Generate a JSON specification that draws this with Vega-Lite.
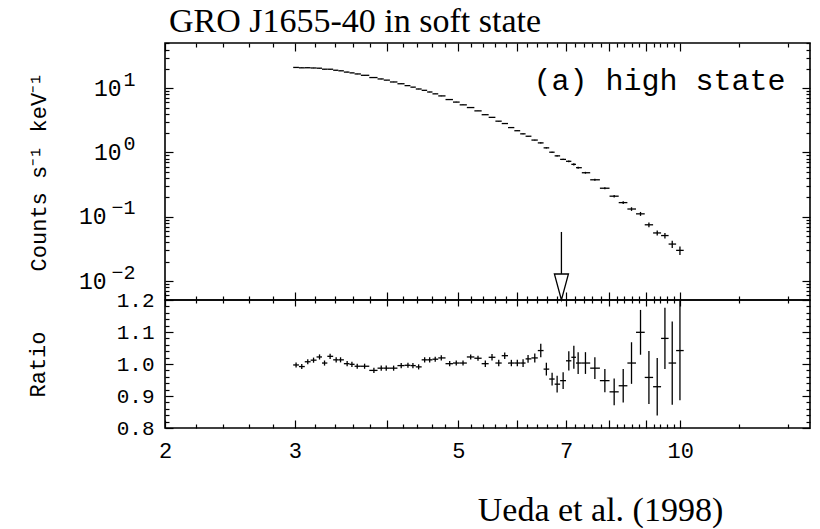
{
  "$schema": "https://vega.github.io/schema/vega-lite/v6.json",
  "padding": {"left": 25, "top": 4, "right": 9, "bottom": 0},
  "title": {"text": "GRO J1655-40 in soft state", "font": "Liberation Serif", "fontSize": 34, "fontWeight": "normal", "color": "black", "anchor": "start", "frame": "group", "offset": 3, "dx": 4},
  "spacing": 0,
  "bounds": "flush",
  "datasets": {
    "pts": [
      {"E":3.012,"lo":2.985,"hi":3.039,"C":21.04,"cerr":0.168,"R":0.997,"rerr":0.008},
      {"E":3.066,"lo":3.039,"hi":3.095,"C":20.75,"cerr":0.166,"R":0.992,"rerr":0.008},
      {"E":3.124,"lo":3.095,"hi":3.152,"C":20.82,"cerr":0.167,"R":1.007,"rerr":0.008},
      {"E":3.181,"lo":3.152,"hi":3.211,"C":20.64,"cerr":0.165,"R":1.012,"rerr":0.008},
      {"E":3.241,"lo":3.211,"hi":3.266,"C":20.48,"cerr":0.164,"R":1.022,"rerr":0.008},
      {"E":3.292,"lo":3.266,"hi":3.321,"C":19.76,"cerr":0.158,"R":1.003,"rerr":0.008},
      {"E":3.350,"lo":3.321,"hi":3.382,"C":19.74,"cerr":0.158,"R":1.024,"rerr":0.008},
      {"E":3.414,"lo":3.382,"hi":3.437,"C":19.04,"cerr":0.152,"R":1.013,"rerr":0.008},
      {"E":3.461,"lo":3.437,"hi":3.497,"C":18.65,"cerr":0.149,"R":1.013,"rerr":0.008},
      {"E":3.533,"lo":3.497,"hi":3.559,"C":17.81,"cerr":0.142,"R":1.001,"rerr":0.008},
      {"E":3.586,"lo":3.559,"hi":3.616,"C":17.31,"cerr":0.138,"R":0.999,"rerr":0.008},
      {"E":3.646,"lo":3.616,"hi":3.688,"C":16.67,"cerr":0.133,"R":0.993,"rerr":0.008},
      {"E":3.731,"lo":3.688,"hi":3.786,"C":15.88,"cerr":0.127,"R":0.993,"rerr":0.008},
      {"E":3.841,"lo":3.786,"hi":3.885,"C":14.65,"cerr":0.117,"R":0.980,"rerr":0.008},
      {"E":3.930,"lo":3.885,"hi":3.961,"C":13.93,"cerr":0.111,"R":0.987,"rerr":0.008},
      {"E":3.992,"lo":3.961,"hi":4.038,"C":13.36,"cerr":0.107,"R":0.987,"rerr":0.008},
      {"E":4.085,"lo":4.038,"hi":4.134,"C":12.50,"cerr":0.100,"R":0.987,"rerr":0.008},
      {"E":4.183,"lo":4.134,"hi":4.227,"C":11.73,"cerr":0.094,"R":0.995,"rerr":0.008},
      {"E":4.272,"lo":4.227,"hi":4.305,"C":10.97,"cerr":0.088,"R":0.996,"rerr":0.008},
      {"E":4.339,"lo":4.305,"hi":4.378,"C":10.39,"cerr":0.083,"R":0.995,"rerr":0.008},
      {"E":4.417,"lo":4.378,"hi":4.459,"C":9.72,"cerr":0.078,"R":0.991,"rerr":0.008},
      {"E":4.501,"lo":4.459,"hi":4.536,"C":9.27,"cerr":0.074,"R":1.013,"rerr":0.008},
      {"E":4.572,"lo":4.536,"hi":4.612,"C":8.73,"cerr":0.070,"R":1.013,"rerr":0.008},
      {"E":4.652,"lo":4.612,"hi":4.696,"C":8.17,"cerr":0.065,"R":1.015,"rerr":0.008},
      {"E":4.741,"lo":4.696,"hi":4.804,"C":7.59,"cerr":0.061,"R":1.019,"rerr":0.008},
      {"E":4.867,"lo":4.804,"hi":4.917,"C":6.66,"cerr":0.053,"R":1.001,"rerr":0.008},
      {"E":4.968,"lo":4.917,"hi":5.021,"C":6.08,"cerr":0.049,"R":1.003,"rerr":0.008},
      {"E":5.074,"lo":5.021,"hi":5.135,"C":5.51,"cerr":0.044,"R":1.003,"rerr":0.008},
      {"E":5.197,"lo":5.135,"hi":5.257,"C":5.00,"cerr":0.040,"R":1.022,"rerr":0.008},
      {"E":5.317,"lo":5.257,"hi":5.378,"C":4.44,"cerr":0.036,"R":1.018,"rerr":0.008},
      {"E":5.440,"lo":5.378,"hi":5.497,"C":3.87,"cerr":0.039,"R":1.001,"rerr":0.010},
      {"E":5.555,"lo":5.497,"hi":5.614,"C":3.52,"cerr":0.035,"R":1.021,"rerr":0.010},
      {"E":5.673,"lo":5.614,"hi":5.726,"C":3.07,"cerr":0.031,"R":1.003,"rerr":0.010},
      {"E":5.780,"lo":5.726,"hi":5.840,"C":2.82,"cerr":0.028,"R":1.026,"rerr":0.010},
      {"E":5.901,"lo":5.840,"hi":5.956,"C":2.44,"cerr":0.024,"R":1.003,"rerr":0.010},
      {"E":6.012,"lo":5.956,"hi":6.066,"C":2.18,"cerr":0.022,"R":1.003,"rerr":0.010},
      {"E":6.121,"lo":6.066,"hi":6.169,"C":1.95,"cerr":0.023,"R":1.003,"rerr":0.012},
      {"E":6.217,"lo":6.169,"hi":6.283,"C":1.79,"cerr":0.021,"R":1.016,"rerr":0.012},
      {"E":6.349,"lo":6.283,"hi":6.409,"C":1.56,"cerr":0.022,"R":1.019,"rerr":0.014},
      {"E":6.469,"lo":6.409,"hi":6.526,"C":1.41,"cerr":0.030,"R":1.042,"rerr":0.021},
      {"E":6.583,"lo":6.526,"hi":6.642,"C":1.18,"cerr":0.024,"R":0.984,"rerr":0.020},
      {"E":6.702,"lo":6.642,"hi":6.755,"C":1.01,"cerr":0.020,"R":0.953,"rerr":0.020},
      {"E":6.808,"lo":6.755,"hi":6.872,"C":0.886,"cerr":0.023,"R":0.937,"rerr":0.026},
      {"E":6.937,"lo":6.872,"hi":6.999,"C":0.781,"cerr":0.020,"R":0.948,"rerr":0.026},
      {"E":7.061,"lo":6.999,"hi":7.117,"C":0.729,"cerr":0.022,"R":1.010,"rerr":0.030},
      {"E":7.173,"lo":7.117,"hi":7.221,"C":0.654,"cerr":0.024,"R":1.021,"rerr":0.036},
      {"E":7.270,"lo":7.221,"hi":7.354,"C":0.580,"cerr":0.020,"R":1.003,"rerr":0.034},
      {"E":7.438,"lo":7.354,"hi":7.549,"C":0.484,"cerr":0.016,"R":1.003,"rerr":0.034},
      {"E":7.660,"lo":7.549,"hi":7.781,"C":0.376,"cerr":0.013,"R":0.987,"rerr":0.034},
      {"E":7.903,"lo":7.781,"hi":8.019,"C":0.278,"cerr":0.010,"R":0.948,"rerr":0.036},
      {"E":8.136,"lo":8.019,"hi":8.252,"C":0.209,"cerr":0.0088,"R":0.913,"rerr":0.042},
      {"E":8.369,"lo":8.252,"hi":8.479,"C":0.166,"cerr":0.0086,"R":0.932,"rerr":0.052},
      {"E":8.589,"lo":8.479,"hi":8.711,"C":0.132,"cerr":0.0086,"R":1.003,"rerr":0.065},
      {"E":8.834,"lo":8.711,"hi":8.951,"C":0.111,"cerr":0.0078,"R":1.099,"rerr":0.070},
      {"E":9.069,"lo":8.951,"hi":9.188,"C":0.075,"cerr":0.0062,"R":0.958,"rerr":0.083},
      {"E":9.307,"lo":9.188,"hi":9.420,"C":0.056,"cerr":0.0050,"R":0.929,"rerr":0.090},
      {"E":9.534,"lo":9.420,"hi":9.644,"C":0.051,"cerr":0.0049,"R":1.080,"rerr":0.096},
      {"E":9.754,"lo":9.644,"hi":9.873,"C":0.0376,"cerr":0.0049,"R":1.003,"rerr":0.130},
      {"E":9.992,"lo":9.873,"hi":10.11,"C":0.030,"cerr":0.0045,"R":1.042,"rerr":0.155}
    ],
    "arrow": [{"E": 6.9, "top": 0.058, "bot": 0.0129, "tri": 0.00807}],
    "note": [{"E": 13.9, "C": 9.3, "label": "(a) high state"}]
  },
  "vconcat": [
    {
      "width": 645,
      "height": 257,
      "layer": [
        {
          "data": {"name": "pts"},
          "mark": {"type": "rule", "color": "black", "strokeWidth": 1.3},
          "encoding": {
            "x": {"field": "lo", "type": "quantitative", "scale": {"type": "log", "domain": [2, 15], "nice": false},
                  "axis": {"orient": "bottom", "values": [2,3,4,5,6,7,8,9,10], "labels": false, "tickSize": -8, "title": null}},
            "x2": {"field": "hi"},
            "y": {"field": "C", "type": "quantitative", "scale": {"type": "log", "domain": [0.00507, 50.5], "nice": false},
                  "axis": {"orient": "left", "values": [1, 10], "ticks": false, "labelPadding": 44, "labelFontSize": 23, "labelExpr": "'10'", "title": null}}
          }
        },
        {
          "data": {"name": "pts"},
          "mark": {"type": "errorbar", "color": "black", "thickness": 1.3},
          "encoding": {
            "x": {"field": "E", "type": "quantitative", "scale": {"type": "log", "domain": [2, 15], "nice": false},
                  "axis": {"orient": "top", "values": [2,3,4,5,6,7,8,9,10], "labels": false, "tickSize": -8, "title": null}},
            "y": {"field": "C", "type": "quantitative", "scale": {"type": "log", "domain": [0.00507, 50.5], "nice": false},
                  "axis": {"orient": "left", "values": [0.01, 0.1, 1, 10], "labels": false, "tickSize": -8, "title": null}},
            "yError": {"field": "cerr"}
          }
        },
        {
          "data": {"name": "arrow"},
          "mark": {"type": "rule", "color": "black", "strokeWidth": 1.3},
          "encoding": {
            "x": {"field": "E", "type": "quantitative", "scale": {"type": "log", "domain": [2, 15], "nice": false},
                  "axis": {"orient": "bottom", "values": [2.2,2.4,2.6,2.8,3.2,3.4,3.6,3.8,4.2,4.4,4.6,4.8,5.2,5.4,5.6,5.8,6.2,6.4,6.6,6.8,7.2,7.4,7.6,7.8,8.2,8.4,8.6,8.8,9.2,9.4,9.6,9.8,12,14], "labels": false, "tickSize": -4, "title": null}},
            "y": {"field": "top", "type": "quantitative", "scale": {"type": "log", "domain": [0.00507, 50.5], "nice": false},
                  "axis": {"orient": "left", "values": [0.006,0.007,0.008,0.009,0.02,0.03,0.04,0.05,0.06,0.07,0.08,0.09,0.2,0.3,0.4,0.5,0.6,0.7,0.8,0.9,2,3,4,5,6,7,8,9,20,30,40,50], "labels": false, "tickSize": -4, "title": null}},
            "y2": {"field": "bot"}
          }
        },
        {
          "data": {"name": "arrow"},
          "mark": {"type": "point", "shape": "M-0.54,-1L0.54,-1L0,1Z", "size": 676, "filled": true, "fill": "white", "stroke": "black", "strokeWidth": 1.3, "opacity": 1},
          "encoding": {
            "x": {"field": "E", "type": "quantitative", "scale": {"type": "log", "domain": [2, 15], "nice": false},
                  "axis": {"orient": "top", "values": [2.2,2.4,2.6,2.8,3.2,3.4,3.6,3.8,4.2,4.4,4.6,4.8,5.2,5.4,5.6,5.8,6.2,6.4,6.6,6.8,7.2,7.4,7.6,7.8,8.2,8.4,8.6,8.8,9.2,9.4,9.6,9.8,12,14], "labels": false, "tickSize": -4, "title": null}},
            "y": {"field": "tri", "type": "quantitative", "scale": {"type": "log", "domain": [0.00507, 50.5], "nice": false},
                  "axis": {"orient": "right", "values": [0.01, 0.1, 1, 10], "labels": false, "tickSize": -8, "title": null}}
          }
        },
        {
          "data": {"name": "note"},
          "mark": {"type": "text", "font": "Liberation Mono", "fontSize": 30, "align": "right", "baseline": "alphabetic", "color": "black"},
          "encoding": {
            "x": {"field": "E", "type": "quantitative", "scale": {"type": "log", "domain": [2, 15], "nice": false}, "axis": null},
            "y": {"field": "C", "type": "quantitative", "scale": {"type": "log", "domain": [0.00507, 50.5], "nice": false},
                  "axis": {"orient": "right", "values": [0.006,0.007,0.008,0.009,0.02,0.03,0.04,0.05,0.06,0.07,0.08,0.09,0.2,0.3,0.4,0.5,0.6,0.7,0.8,0.9,2,3,4,5,6,7,8,9,20,30,40,50], "labels": false, "tickSize": -4, "title": null}},
            "text": {"field": "label"}
          }
        },
        {
          "data": {"name": "pts"},
          "mark": {"type": "point", "opacity": 0},
          "encoding": {
            "x": {"field": "E", "type": "quantitative", "scale": {"type": "log", "domain": [2, 15], "nice": false}, "axis": null},
            "y": {"field": "C", "type": "quantitative", "scale": {"type": "log", "domain": [0.00507, 50.5], "nice": false},
                  "axis": {"orient": "left", "values": [0.01, 0.1], "ticks": false, "labelPadding": 59, "labelFontSize": 23, "labelExpr": "'10'",
                           "title": "Counts s⁻¹ keV⁻¹", "titlePadding": 28}}
          }
        },
        {
          "data": {"name": "pts"},
          "mark": {"type": "point", "opacity": 0},
          "encoding": {
            "x": {"field": "E", "type": "quantitative", "scale": {"type": "log", "domain": [2, 15], "nice": false}, "axis": null},
            "y": {"field": "C", "type": "quantitative", "scale": {"type": "log", "domain": [0.00507, 50.5], "nice": false},
                  "axis": {"orient": "left", "values": [1, 10], "ticks": false, "labelPadding": 30, "labelFontSize": 20, "labelOffset": -9,
                           "labelExpr": "datum.value > 5 ? '1' : '0'", "title": null}}
          }
        },
        {
          "data": {"name": "pts"},
          "mark": {"type": "point", "opacity": 0},
          "encoding": {
            "x": {"field": "E", "type": "quantitative", "scale": {"type": "log", "domain": [2, 15], "nice": false}, "axis": null},
            "y": {"field": "C", "type": "quantitative", "scale": {"type": "log", "domain": [0.00507, 50.5], "nice": false},
                  "axis": {"orient": "left", "values": [0.01, 0.1], "ticks": false, "labelPadding": 30, "labelFontSize": 20, "labelOffset": -9,
                           "labelExpr": "datum.value > 0.05 ? '−1' : '−2'", "title": null}}
          }
        }
      ],
      "resolve": {"axis": {"x": "independent", "y": "independent"}}
    },
    {
      "width": 645,
      "height": 128,
      "layer": [
        {
          "mark": {"type": "rule", "color": "black", "strokeWidth": 1.6, "strokeDash": [1.6, 22.4]},
          "encoding": {
            "x": {"datum": 2.04, "type": "quantitative", "scale": {"type": "log", "domain": [2, 15], "nice": false},
                  "axis": {"orient": "top", "values": [2,3,4,5,6,7,8,9,10], "labels": false, "tickSize": -6, "title": null}},
            "x2": {"datum": 15},
            "y": {"datum": 1, "type": "quantitative", "scale": {"domain": [0.8, 1.2], "nice": false, "zero": false},
                  "axis": {"orient": "right", "values": [0.8, 0.9, 1.0, 1.1, 1.2], "labels": false, "tickSize": -8, "title": null}}
          }
        },
        {
          "data": {"name": "pts"},
          "mark": {"type": "rule", "color": "black", "strokeWidth": 1.3},
          "encoding": {
            "x": {"field": "lo", "type": "quantitative", "scale": {"type": "log", "domain": [2, 15], "nice": false},
                  "axis": {"orient": "bottom", "values": [2, 3, 5, 7, 10], "ticks": false, "format": "d", "labelPadding": 12,
                           "title": "Ueda et al. (1998)", "titleFont": "Liberation Serif", "titleFontSize": 34, "titleX": 435, "titleY": 92, "titleBaseline": "alphabetic", "titleAlign": "center"}},
            "x2": {"field": "hi"},
            "y": {"field": "R", "type": "quantitative", "scale": {"domain": [0.8, 1.2], "nice": false, "zero": false},
                  "axis": {"orient": "left", "values": [0.8, 0.9, 1.0, 1.1, 1.2], "ticks": false, "format": ".1f", "labelPadding": 11, "labelFontSize": 21,
                           "title": "Ratio", "titlePadding": 67}}
          }
        },
        {
          "data": {"name": "pts"},
          "mark": {"type": "errorbar", "color": "black", "thickness": 1.3},
          "encoding": {
            "x": {"field": "E", "type": "quantitative", "scale": {"type": "log", "domain": [2, 15], "nice": false},
                  "axis": {"orient": "bottom", "values": [2,3,4,5,6,7,8,9,10], "labels": false, "tickSize": -8, "title": null}},
            "y": {"field": "R", "type": "quantitative", "scale": {"domain": [0.8, 1.2], "nice": false, "zero": false},
                  "axis": {"orient": "left", "values": [0.8, 0.9, 1.0, 1.1, 1.2], "labels": false, "tickSize": -8, "title": null}},
            "yError": {"field": "rerr"}
          }
        },
        {
          "data": {"name": "pts"},
          "mark": {"type": "point", "opacity": 0},
          "encoding": {
            "x": {"field": "E", "type": "quantitative", "scale": {"type": "log", "domain": [2, 15], "nice": false},
                  "axis": {"orient": "bottom", "values": [2.2,2.4,2.6,2.8,3.2,3.4,3.6,3.8,4.2,4.4,4.6,4.8,5.2,5.4,5.6,5.8,6.2,6.4,6.6,6.8,7.2,7.4,7.6,7.8,8.2,8.4,8.6,8.8,9.2,9.4,9.6,9.8,12,14], "labels": false, "tickSize": -4, "title": null}},
            "y": {"field": "R", "type": "quantitative", "scale": {"domain": [0.8, 1.2], "nice": false, "zero": false},
                  "axis": {"orient": "left", "values": [0.82,0.84,0.86,0.88,0.92,0.94,0.96,0.98,1.02,1.04,1.06,1.08,1.12,1.14,1.16,1.18], "labels": false, "tickSize": -4, "title": null}}
          }
        },
        {
          "data": {"name": "pts"},
          "mark": {"type": "point", "opacity": 0},
          "encoding": {
            "x": {"field": "E", "type": "quantitative", "scale": {"type": "log", "domain": [2, 15], "nice": false},
                  "axis": {"orient": "top", "values": [2.2,2.4,2.6,2.8,3.2,3.4,3.6,3.8,4.2,4.4,4.6,4.8,5.2,5.4,5.6,5.8,6.2,6.4,6.6,6.8,7.2,7.4,7.6,7.8,8.2,8.4,8.6,8.8,9.2,9.4,9.6,9.8,12,14], "labels": false, "tickSize": -3, "title": null}},
            "y": {"field": "R", "type": "quantitative", "scale": {"domain": [0.8, 1.2], "nice": false, "zero": false},
                  "axis": {"orient": "right", "values": [0.82,0.84,0.86,0.88,0.92,0.94,0.96,0.98,1.02,1.04,1.06,1.08,1.12,1.14,1.16,1.18], "labels": false, "tickSize": -4, "title": null}}
          }
        }
      ],
      "resolve": {"axis": {"x": "independent", "y": "independent"}}
    }
  ],
  "config": {
    "view": {"stroke": "black", "strokeWidth": 1.6},
    "axis": {"grid": false, "domain": false, "tickColor": "black", "tickWidth": 1.2, "labelColor": "black", "titleColor": "black",
             "labelFlush": false, "labelOverlap": false, "labelFont": "Liberation Mono", "titleFont": "Liberation Mono",
             "titleFontWeight": "normal", "labelFontSize": 22, "titleFontSize": 22}
  }
}
